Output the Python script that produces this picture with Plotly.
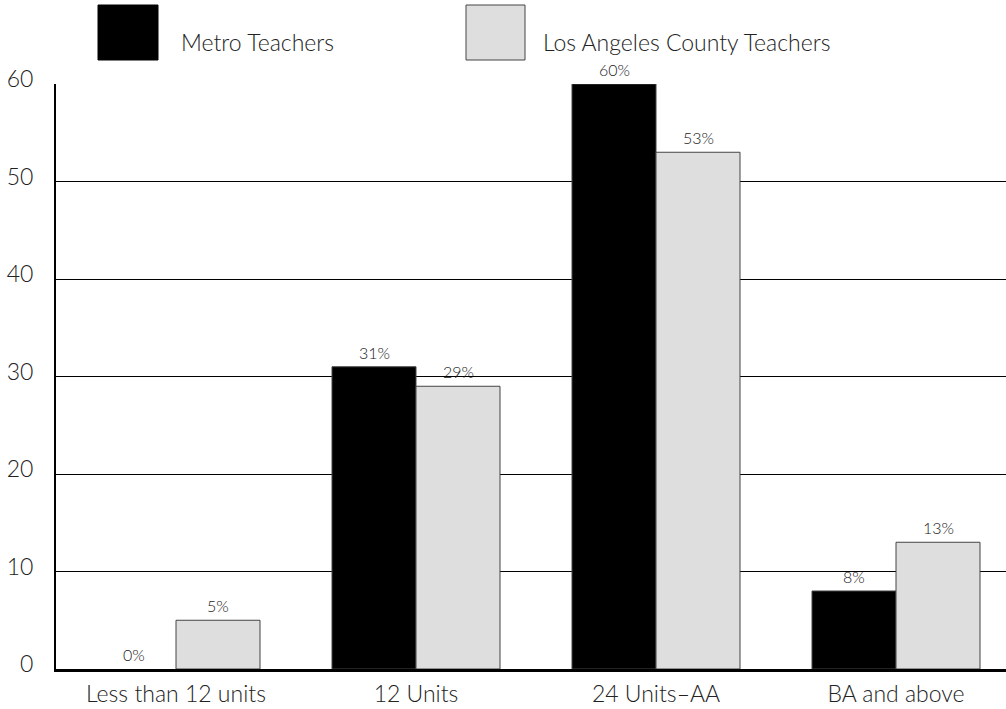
import plotly.graph_objects as go

categories = ["Less than 12 units", "12 Units", "24 Units\u2013AA", "BA and above"]
metro = [0, 31, 60, 8]
county = [5, 29, 53, 13]
series_names = ["Metro Teachers", "Los Angeles County Teachers"]
y_ticks = [0, 10, 20, 30, 40, 50, 60]

FONT = "Lato"
TXT = "#222222"
fig = go.Figure()
for vals, fill, name in ((metro, "#000000", series_names[0]), (county, "#dedede", series_names[1])):
    fig.add_trace(go.Bar(x=categories, y=vals, name=name,
                         marker=dict(color=fill,
                                     line=dict(color="#444444",
                                               width=[0 if v == 0 else 1 for v in vals])),
                         showlegend=False))

# value labels
for i, c in enumerate(categories):
    for val, shift in ((metro[i], -42), (county[i], 42)):
        fig.add_annotation(x=c, y=val, xshift=shift, yshift=3, yanchor="bottom",
                           text=f"{val}%", showarrow=False,
                           font=dict(family=FONT, size=16, color="#1a1a1a", weight=300))

# legend drawn as squares + text
L, W = 56, 950
T, H = 84, 585
def px(x):
    return (x - L) / W
def py(y):
    return (T + H - y) / H

legend_items = [(98, 158, "#000000", "#000000", series_names[0], 179),
                (466, 525, "#dedede", "#444444", series_names[1], 541)]
for x0, x1, fill, line, label, tx in legend_items:
    fig.add_shape(type="rect", xref="paper", yref="paper",
                  x0=px(x0), x1=px(x1), y0=py(60), y1=py(5),
                  fillcolor=fill, line=dict(color=line, width=1))
    fig.add_annotation(xref="paper", yref="paper", x=px(tx), y=py(42),
                       xanchor="left", yanchor="middle", text=label, showarrow=False,
                       font=dict(family=FONT, size=23, color=TXT, weight=300))

fig.update_layout(
    width=1006, height=709,
    margin=dict(l=56, r=0, t=84, b=40),
    paper_bgcolor="white", plot_bgcolor="white",
    barmode="group", bargap=0.3, bargroupgap=0,
    font=dict(family=FONT, size=23, color=TXT, weight=300),
    xaxis=dict(range=[-0.5, 3.4583], showgrid=False, ticks="",
               showline=True, linecolor="black", linewidth=3,
               tickfont=dict(size=23, weight=300), ticklabelstandoff=2),
    yaxis=dict(range=[0, 60], tickvals=y_ticks, showgrid=True, gridcolor="black",
               gridwidth=1, zeroline=False, showline=True, linecolor="black",
               linewidth=2, ticks="", tickfont=dict(size=23, weight=300),
               ticklabelstandoff=16, ticklabelshift=-5),
)

fig.write_html("out.html")
